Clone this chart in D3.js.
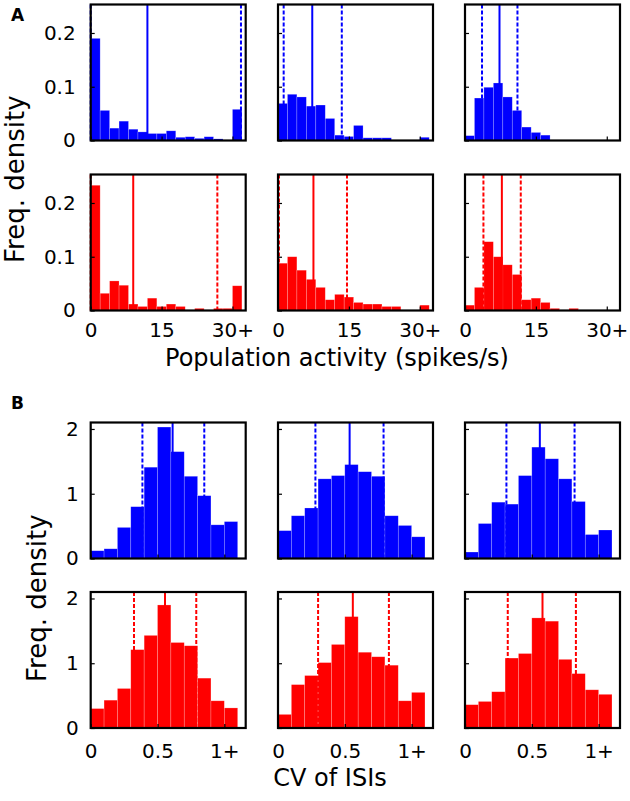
<!DOCTYPE html>
<html><head><meta charset="utf-8">
<script src="https://cdn.jsdelivr.net/npm/d3@7"></script>
<style>body{margin:0;background:#fff}svg{display:block}text{font-family:"DejaVu Sans",sans-serif;fill:#000}</style>
</head><body>
<script>
// ---------- data ----------
const actBins = [0,2,4,6,8,10,12,14,16,18,20,22,24,26,28,30];   // bin starts (width 2), last = "30+"
const actTicks = [0,15,30];
const actTickLabels = ["0","15","30+"];
const actYTicks = [0,0.1,0.2];
const actYLabels = ["0","0.1","0.2"];

const actBlue1 = [0.19,0.056,0.023,0.036,0.021,0.016,0.013,0.013,0.018,0.006,0.007,0.004,0.007,0.003,0.0,0.058];
const actBlue2 = [0.069,0.086,0.081,0.064,0.066,0.041,0.010,0.0075,0.028,0.005,0.005,0.005,0,0,0,0.006];
const actBlue3 = [0.009,0.079,0.099,0.107,0.081,0.056,0.025,0.015,0.010,0,0,0,0,0,0,0];
const actRed1  = [0.233,0.032,0.055,0.047,0.012,0.0075,0.023,0.0075,0.012,0.0075,0,0.004,0.001,0.004,0.004,0.046];
const actRed2  = [0.088,0.100,0.075,0.058,0.043,0.020,0.030,0.025,0.015,0.012,0.012,0.0075,0.0075,0,0,0.010];
const actRed3  = [0.010,0.043,0.128,0.100,0.085,0.067,0.020,0.023,0.015,0.004,0,0.004,0,0,0,0];
// [lower dashed, mean (solid), upper dashed]
const actLinesBlue = [[0,12.0,31.8],[1.2,7.25,13.5],[3.6,7.3,11.1]];
const actLinesRed  = [[0,9.0,26.8],[0.2,7.5,14.6],[3.9,7.8,11.8]];

const cvBins = [0,0.1,0.2,0.3,0.4,0.5,0.6,0.7,0.8,0.9,1.0];     // bin starts (width 0.1), last = "1+"
const cvTicks = [0,0.5,1];
const cvTickLabels = ["0","0.5","1+"];
const cvYTicks = [0,1,2];
const cvYLabels = ["0","1","2"];

const cvBlue1 = [0.12,0.15,0.48,0.80,1.41,2.03,1.65,1.27,0.97,0.52,0.57];
const cvBlue2 = [0.43,0.66,0.78,1.23,1.28,1.45,1.34,1.27,0.66,0.51,0.335];
const cvBlue3 = [0.10,0.54,0.87,0.84,1.28,1.72,1.54,1.23,0.88,0.37,0.44];
const cvRed1  = [0.30,0.43,0.61,1.21,1.43,1.90,1.32,1.27,0.77,0.42,0.31];
const cvRed2  = [0.21,0.67,0.81,1.01,1.29,1.72,1.17,1.10,0.97,0.42,0.55];
const cvRed3  = [0.36,0.41,0.56,1.08,1.15,1.70,1.65,1.06,0.84,0.59,0.52];
const cvLinesBlue = [[0.387,0.613,0.85],[0.28,0.536,0.79],[0.31,0.56,0.82]];
const cvLinesRed  = [[0.324,0.556,0.79],[0.30,0.56,0.83],[0.32,0.58,0.83]];

const BLUE = "#0000ff", RED = "#ff0000";

// ---------- layout ----------
const W = 630, H = 801;
const colX = [90.7, 278, 465];
const PW = 155, PH = 136;
const svg = d3.select("body").append("svg").attr("width", W).attr("height", H);

function panel(opts) {
  const {x0, y0, bins, binW, values, lines, color, xDomain, yDomain,
         xTicks, xLabels, yTicks, yLabels, showX, showY, xPad, yPad} = opts;
  const x = d3.scaleLinear().domain(xDomain).range([x0, x0 + PW]);
  const y = d3.scaleLinear().domain(yDomain).range([y0 + PH, y0]);
  const g = svg.append("g");
  g.selectAll("rect.bar").data(bins.map((b, i) => ({b, v: values[i]})))
    .join("rect").attr("class", "bar")
    .attr("x", d => x(d.b)).attr("width", d => x(d.b + binW) - x(d.b))
    .attr("y", d => y(d.v)).attr("height", d => y(0) - y(d.v))
    .attr("fill", color).attr("stroke", "rgba(255,255,255,0.35)").attr("stroke-width", 0.6);
  lines.forEach((v, i) => {
    g.append("line").attr("x1", x(v)).attr("x2", x(v)).attr("y1", y0).attr("y2", y0 + PH)
      .attr("stroke", color).attr("stroke-width", 2)
      .attr("stroke-dasharray", i === 1 ? null : "4,2");
  });
  const xa = d3.axisTop(x).tickValues(xTicks).tickSize(4).tickFormat("");
  g.append("g").attr("transform", `translate(0,${y0 + PH})`).call(xa)
    .call(s => s.select(".domain").remove())
    .call(s => s.selectAll("line").attr("stroke", "#000").attr("stroke-width", 1.2));
  const ya = d3.axisRight(y).tickValues(yTicks).tickSize(4).tickFormat("");
  g.append("g").attr("transform", `translate(${x0},0)`).call(ya)
    .call(s => s.select(".domain").remove())
    .call(s => s.selectAll("line").attr("stroke", "#000").attr("stroke-width", 1.2));
  if (showX) {
    const xb = d3.axisBottom(x).tickValues(xTicks).tickSize(0).tickPadding(xPad)
      .tickFormat((d, i) => xLabels[i]);
    g.append("g").attr("transform", `translate(0,${y0 + PH})`).call(xb)
      .call(s => s.select(".domain").remove())
      .call(s => s.selectAll("text").attr("font-size", 20).attr("font-family", "DejaVu Sans").attr("fill", "#000"));
  }
  if (showY) {
    const yl = d3.axisLeft(y).tickValues(yTicks).tickSize(0).tickPadding(yPad)
      .tickFormat((d, i) => yLabels[i]);
    g.append("g").attr("transform", `translate(${x0},0)`).call(yl)
      .call(s => s.select(".domain").remove())
      .call(s => s.selectAll("text").attr("font-size", 20).attr("font-family", "DejaVu Sans").attr("fill", "#000"));
  }
  g.append("rect").attr("x", x0).attr("y", y0).attr("width", PW).attr("height", PH)
    .attr("fill", "none").attr("stroke", "#000").attr("stroke-width", 2.2);
}

const actRows = [[actBlue1, actBlue2, actBlue3], [actRed1, actRed2, actRed3]];
const actLines = [actLinesBlue, actLinesRed];
const cvRows = [[cvBlue1, cvBlue2, cvBlue3], [cvRed1, cvRed2, cvRed3]];
const cvLines = [cvLinesBlue, cvLinesRed];
const colors = [BLUE, RED];
const aY = [4.5, 174.5], bY = [422.5, 592];

for (let r = 0; r < 2; r++) for (let c = 0; c < 3; c++) {
  panel({x0: colX[c], y0: aY[r], bins: actBins, binW: 2, values: actRows[r][c], lines: actLines[r][c],
    color: colors[r], xDomain: [0, 32.8], yDomain: [0, 0.253], xTicks: actTicks, xLabels: actTickLabels,
    yTicks: actYTicks, yLabels: actYLabels, showX: r === 1, showY: c === 0, xPad: 12, yPad: 15});
  panel({x0: colX[c], y0: bY[r], bins: cvBins, binW: 0.1, values: cvRows[r][c], lines: cvLines[r][c],
    color: colors[r], xDomain: [0, 1.16], yDomain: [0, 2.1], xTicks: cvTicks, xLabels: cvTickLabels,
    yTicks: cvYTicks, yLabels: cvYLabels, showX: r === 1, showY: c === 0, xPad: 16, yPad: 12});
}

// labels
svg.append("text").attr("x", 11).attr("y", 21).attr("font-size", 17).attr("font-weight", "bold").text("A");
svg.append("text").attr("x", 11).attr("y", 409).attr("font-size", 17).attr("font-weight", "bold").text("B");
svg.append("text").attr("transform", "translate(24,263) rotate(-90)").attr("text-anchor", "start")
  .attr("font-size", 26).text("Freq. density");
svg.append("text").attr("transform", "translate(46,682) rotate(-90)").attr("text-anchor", "start")
  .attr("font-size", 26).text("Freq. density");
svg.append("text").attr("x", 337).attr("y", 366).attr("text-anchor", "middle").attr("font-size", 24)
  .text("Population activity (spikes/s)");
svg.append("text").attr("x", 330).attr("y", 786).attr("text-anchor", "middle").attr("font-size", 24)
  .text("CV of ISIs");
</script>
</body></html>
